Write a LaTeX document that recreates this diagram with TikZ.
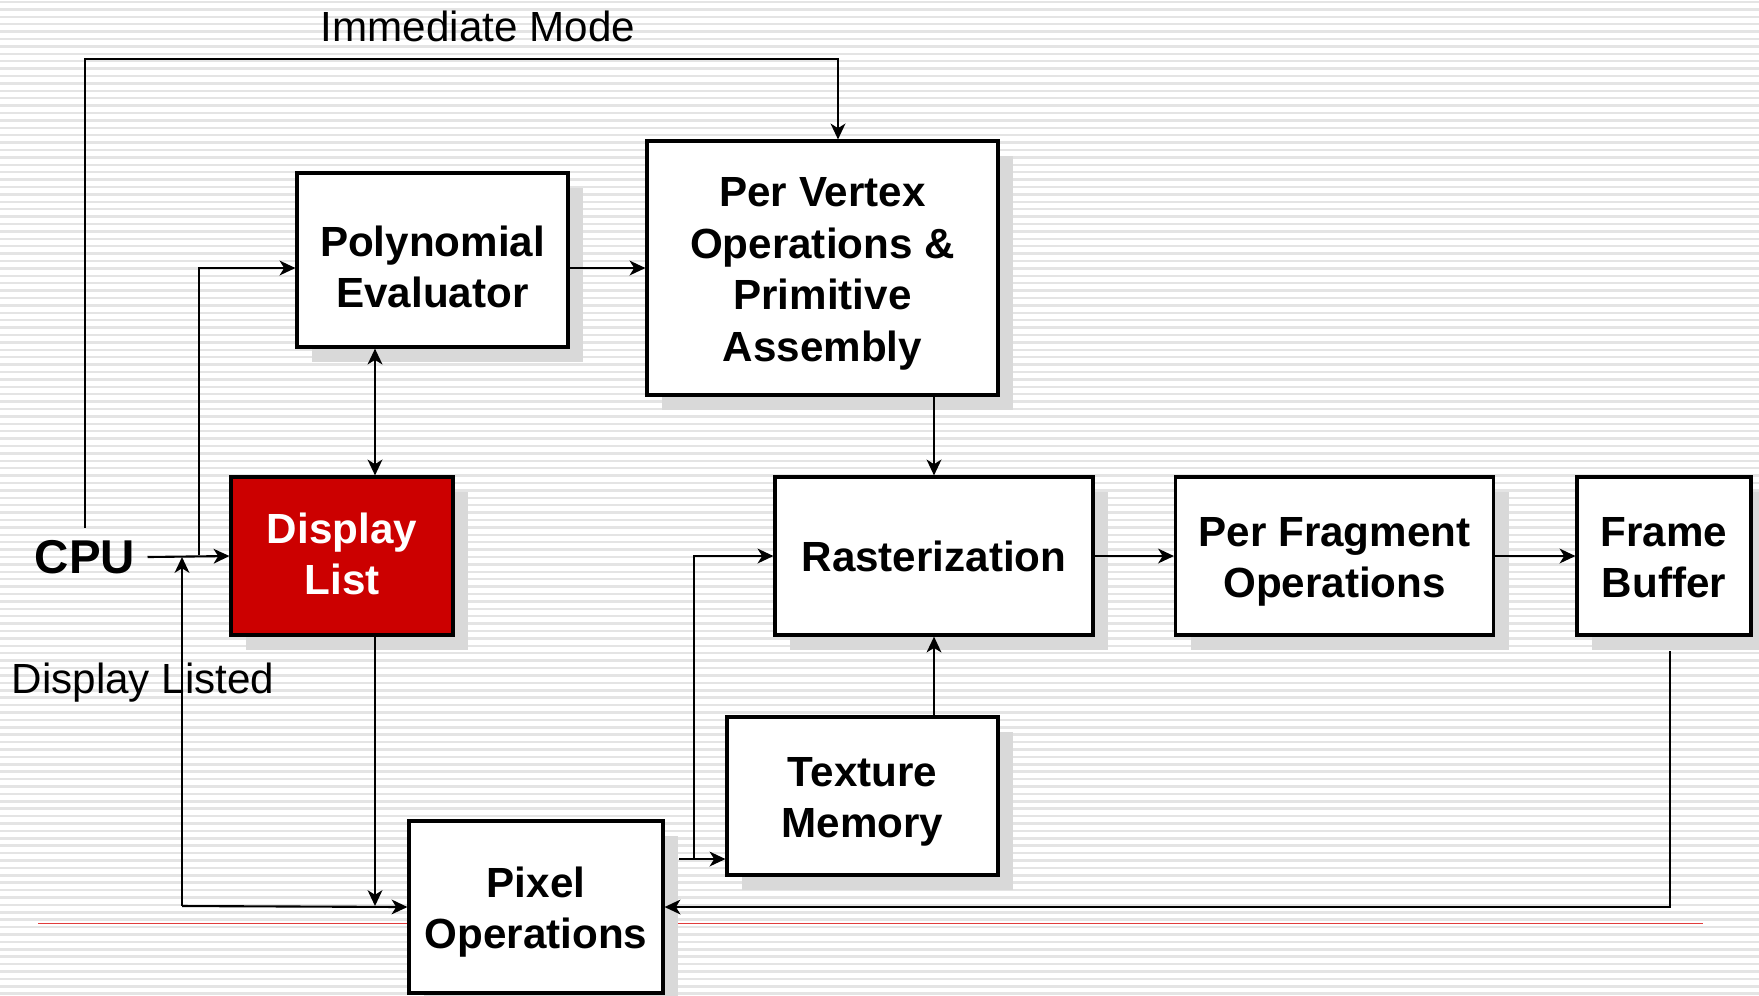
\documentclass[tikz,border=0pt]{standalone}
\usepackage{fontspec}
\setmainfont{Liberation Sans}
\usetikzlibrary{arrows.meta,shadows}

\pgfdeclarelayer{stripes}
\pgfsetlayers{stripes,main}

\definecolor{dlred}{RGB}{204,0,0}
\definecolor{shade}{RGB}{217,217,217}
\definecolor{stripegray}{RGB}{228,228,228}
\definecolor{rule}{RGB}{225,60,60}

% Zeilenstütze wie in PowerPoint
\newcommand{\ls}{\rule[-2.54pt]{0pt}{14.14pt}}

\tikzset{
  box/.style={draw, line width=0.9pt, fill=white, align=center, inner sep=0pt,
    font=\bfseries\fontsize{12}{14.7}\selectfont,
    drop shadow={shadow xshift=1.5mm, shadow yshift=-1.5mm, opacity=1, fill=shade}},
  arr/.style={-{Stealth[length=4.5pt,width=4.2pt,inset=1.3pt]}, line width=0.6pt},
  arrboth/.style={{Stealth[length=4.5pt,width=4.2pt,inset=1.3pt]}-{Stealth[length=4.5pt,width=4.2pt,inset=1.3pt]}, line width=0.6pt},
  stripe/.style={stripegray, line width=0.7pt},
  tag/.style={font=\fontsize{12}{14.7}\selectfont, inner sep=0pt}
}

\begin{document}
\begin{tikzpicture}

    \useasboundingbox (0,0) rectangle (17.59,-9.95);

    % Hintergrund
    \begin{pgfonlayer}{stripes}
        \fill[white] (0,0) rectangle (17.59,-9.95);
        \foreach \i in {0,...,134}
            \draw[stripe] (0,{-0.074*\i-0.02}) -- ++(17.59,0);
        \draw[rule, line width=0.3pt] (0.38,-9.23) -- (17.03,-9.23);
    \end{pgfonlayer}

    % Blöcke
    \node[box, minimum width=2.71cm, minimum height=1.74cm] (poly) at (4.325,-2.60)
        {\rule{0pt}{15pt}Polynomial\\Evaluator\ls};
    \node[box, minimum width=3.51cm, minimum height=2.54cm] (vertex) at (8.225,-2.68)
        {\ls Per Vertex\\Operations \&\\Primitive\\Assembly\ls};
    \node[box, fill=dlred, text=white, minimum width=2.22cm, minimum height=1.58cm] (dlist) at (3.42,-5.56)
        {\rule{0pt}{9.9pt}Display\\List\ls};
    \node[box, minimum width=3.18cm, minimum height=1.58cm] (raster) at (9.34,-5.56)
        {\ls Rasterization};
    \node[box, minimum width=3.18cm, minimum height=1.58cm] (frag) at (13.345,-5.56)
        {\ls Per Fragment\\Operations\ls};
    \node[box, minimum width=1.74cm, minimum height=1.58cm] (fbuf) at (16.64,-5.56)
        {\ls Frame\\Buffer\ls};
    \node[box, minimum width=2.71cm, minimum height=1.58cm] (tex) at (8.625,-7.96)
        {\ls Texture\\Memory\ls};
    \node[box, minimum width=2.54cm, minimum height=1.72cm] (pixel) at (5.36,-9.07)
        {\ls Pixel\\Operations\ls};

    % Beschriftungen
    \node[font=\bfseries\fontsize{13.5}{16}\selectfont] (cpu) at (0.85,-5.57) {CPU};
    \node[tag] (imm) at (4.78,-0.26) {Immediate Mode};
    \node[tag, anchor=west] (dlisted) at (0.11,-6.83) {Display Listed};

    % Hilfspunkte
    \coordinate (topright) at (8.38,-0.59);
    \coordinate (split) at (1.99,-5.55);
    \coordinate (loop) at (1.82,-9.06);
    \coordinate (dljoin) at (3.75,-9.06);
    \coordinate (pxout) at (6.79,-8.59);
    \coordinate (fbout) at (16.70,-6.51);

    % Verbindungen
    \draw[arr] (cpu.north) |- (topright) -- (topright |- vertex.north);
    \draw[arr] (cpu.east) -- (dlist.west);
    \draw[arr] (split) |- (poly.west |- vertex.west);
    \draw[arr] (poly.east |- vertex.west) -- (vertex.west);
    \draw[arrboth] (poly.south -| dljoin) -- (dlist.north -| dljoin);
    \draw[arr] (dlist.south -| dljoin) -- (dljoin);
    \draw[arr] (loop) -- (pixel.west);
    \draw[arr] (loop) -- (loop |- cpu.east);
    \draw[arr] (vertex.south -| raster.north) -- (raster.north);
    \draw[arr] (tex.north -| raster.south) -- (raster.south);
    \draw[arr] (pxout) -- (pxout -| tex.west);
    \draw[arr] (pxout -| 6.94,0) |- (raster.west);
    \draw[arr] (raster.east) -- (frag.west);
    \draw[arr] (frag.east) -- (fbuf.west);
    \draw[arr] (fbout) |- (pixel.east);

\end{tikzpicture}
\end{document}
